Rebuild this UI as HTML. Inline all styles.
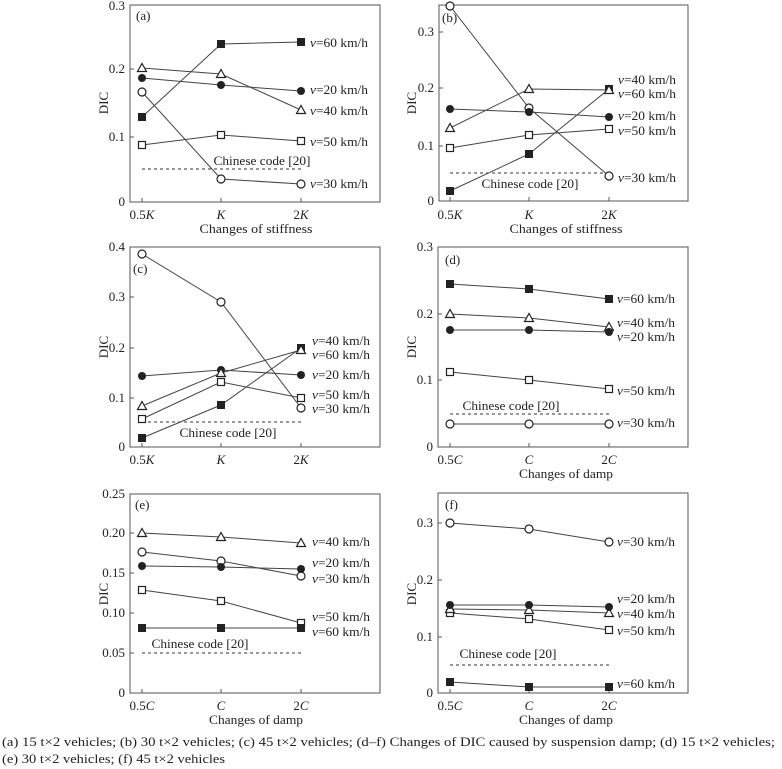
<!DOCTYPE html>
<html><head><meta charset="utf-8"><style>
html,body{margin:0;padding:0;background:#fff}
svg{display:block}
text{font-family:"Liberation Serif","Times New Roman",Times,serif;fill:#222}
</style></head><body>
<svg width="782" height="769" viewBox="0 0 782 769" xmlns="http://www.w3.org/2000/svg">
<defs>
<rect id="fs" x="-3.5" y="-3.5" width="7" height="7" fill="#222" stroke="#222" stroke-width="1"/>
<rect id="os" x="-3.5" y="-3.5" width="7" height="7" fill="#fff" stroke="#222" stroke-width="1.2"/>
<circle id="fc" r="4" fill="#222"/>
<circle id="oc" r="4" fill="#fff" stroke="#222" stroke-width="1.2"/>
<polygon id="tr" points="0,-4.5 4.5,3.5 -4.5,3.5" fill="#fff" stroke="#222" stroke-width="1.2"/>
</defs>
<g fill="none" stroke="#555" stroke-width="1">
<rect x="130" y="5" width="250" height="197"/>
<rect x="439" y="5" width="249" height="196"/>
<rect x="130" y="247" width="250" height="200"/>
<rect x="438" y="247" width="250" height="200"/>
<rect x="130" y="494" width="250" height="199"/>
<rect x="438" y="493" width="250" height="200"/>
</g>
<g stroke="#555" stroke-width="1">
<path d="M130 137h4M130 69h4M142 202v-4M221 202v-4M301 202v-4"/>
<path d="M439 146h4M439 88h4M439 32h4M450 201v-4M529 201v-4M609 201v-4"/>
<path d="M130 398h4M130 348h4M130 297h4M142 447v-4M221 447v-4M301 447v-4"/>
<path d="M438 380h4M438 314h4M450 447v-4M529 447v-4M609 447v-4"/>
<path d="M130 653h4M130 613h4M130 573h4M130 533h4M142 693v-4M221 693v-4M301 693v-4"/>
<path d="M438 637h4M438 580h4M438 523h4M450 693v-4M529 693v-4M609 693v-4"/>
</g>
<g stroke="#333" stroke-dasharray="3,3" stroke-width="1">
<path d="M142 169H301M450 173H609M142 422H301M450 414H609M142 653H301M450 665H609"/>
</g>
<g fill="none" stroke="#444" stroke-width="1">
<polyline points="142,117 221,44 301,42"/>
<polyline points="142,68 221,74 301,110"/>
<polyline points="142,78 221,85 301,91"/>
<polyline points="142,145 221,135 301,141"/>
<polyline points="142,92 221,179 301,184"/>
<polyline points="450,6 529,108 609,176"/>
<polyline points="450,128 529,89 609,90"/>
<polyline points="450,109 529,112 609,117"/>
<polyline points="450,148 529,135 609,129"/>
<polyline points="450,191 529,154 609,89"/>
<polyline points="142,254 221,302 301,408"/>
<polyline points="142,376 221,370 301,375"/>
<polyline points="142,406 221,373 301,350"/>
<polyline points="142,419 221,382 301,398"/>
<polyline points="142,438 221,405 301,348"/>
<polyline points="450,284 529,289 609,299"/>
<polyline points="450,314 529,318 609,327"/>
<polyline points="450,330 529,330 609,332"/>
<polyline points="450,372 529,380 609,389"/>
<polyline points="450,424 529,424 609,424"/>
<polyline points="142,533 221,537 301,543"/>
<polyline points="142,552 221,561 301,576"/>
<polyline points="142,566 221,567 301,569"/>
<polyline points="142,590 221,601 301,623"/>
<polyline points="142,628 221,628 301,628"/>
<polyline points="450,523 529,529 609,542"/>
<polyline points="450,605 529,605 609,607"/>
<polyline points="450,609 529,610 609,613"/>
<polyline points="450,613 529,619 609,630"/>
<polyline points="450,682 529,687 609,687"/>
</g>
<use href="#fs" x="142" y="117"/><use href="#fs" x="221" y="44"/><use href="#fs" x="301" y="42"/>
<use href="#tr" x="142" y="68"/><use href="#tr" x="221" y="74"/><use href="#tr" x="301" y="110"/>
<use href="#fc" x="142" y="78"/><use href="#fc" x="221" y="85"/><use href="#fc" x="301" y="91"/>
<use href="#os" x="142" y="145"/><use href="#os" x="221" y="135"/><use href="#os" x="301" y="141"/>
<use href="#oc" x="142" y="92"/><use href="#oc" x="221" y="179"/><use href="#oc" x="301" y="184"/>

<use href="#oc" x="450" y="6"/><use href="#oc" x="529" y="108"/><use href="#oc" x="609" y="176"/>
<use href="#fc" x="450" y="109"/><use href="#fc" x="529" y="112"/><use href="#fc" x="609" y="117"/>
<use href="#os" x="450" y="148"/><use href="#os" x="529" y="135"/><use href="#os" x="609" y="129"/>
<use href="#fs" x="450" y="191"/><use href="#fs" x="529" y="154"/><use href="#fs" x="609" y="89"/>
<use href="#tr" x="450" y="128"/><use href="#tr" x="529" y="89"/><use href="#tr" x="609" y="90"/>

<use href="#oc" x="142" y="254"/><use href="#oc" x="221" y="302"/><use href="#oc" x="301" y="408"/>
<use href="#fc" x="142" y="376"/><use href="#fc" x="221" y="370"/><use href="#fc" x="301" y="375"/>
<use href="#os" x="142" y="419"/><use href="#os" x="221" y="382"/><use href="#os" x="301" y="398"/>
<use href="#fs" x="142" y="438"/><use href="#fs" x="221" y="405"/><use href="#fs" x="301" y="348"/>
<use href="#tr" x="142" y="406"/><use href="#tr" x="221" y="373"/><use href="#tr" x="301" y="350"/>

<use href="#fs" x="450" y="284"/><use href="#fs" x="529" y="289"/><use href="#fs" x="609" y="299"/>
<use href="#tr" x="450" y="314"/><use href="#tr" x="529" y="318"/><use href="#tr" x="609" y="327"/>
<use href="#fc" x="450" y="330"/><use href="#fc" x="529" y="330"/><use href="#fc" x="609" y="332"/>
<use href="#os" x="450" y="372"/><use href="#os" x="529" y="380"/><use href="#os" x="609" y="389"/>
<use href="#oc" x="450" y="424"/><use href="#oc" x="529" y="424"/><use href="#oc" x="609" y="424"/>

<use href="#tr" x="142" y="533"/><use href="#tr" x="221" y="537"/><use href="#tr" x="301" y="543"/>
<use href="#oc" x="142" y="552"/><use href="#oc" x="221" y="561"/><use href="#oc" x="301" y="576"/>
<use href="#fc" x="142" y="566"/><use href="#fc" x="221" y="567"/><use href="#fc" x="301" y="569"/>
<use href="#os" x="142" y="590"/><use href="#os" x="221" y="601"/><use href="#os" x="301" y="623"/>
<use href="#fs" x="142" y="628"/><use href="#fs" x="221" y="628"/><use href="#fs" x="301" y="628"/>

<use href="#oc" x="450" y="523"/><use href="#oc" x="529" y="529"/><use href="#oc" x="609" y="542"/>
<use href="#os" x="450" y="613"/><use href="#os" x="529" y="619"/><use href="#os" x="609" y="630"/>
<use href="#tr" x="450" y="609"/><use href="#tr" x="529" y="610"/><use href="#tr" x="609" y="613"/>
<use href="#fc" x="450" y="605"/><use href="#fc" x="529" y="605"/><use href="#fc" x="609" y="607"/>
<use href="#fs" x="450" y="682"/><use href="#fs" x="529" y="687"/><use href="#fs" x="609" y="687"/>

<g font-size="13" text-anchor="end">
<text x="125" y="206">0</text><text x="125" y="141">0.1</text><text x="125" y="73">0.2</text><text x="125" y="10">0.3</text>
<text x="434" y="205">0</text><text x="434" y="150">0.1</text><text x="434" y="92">0.2</text><text x="434" y="36">0.3</text>
<text x="125" y="451">0</text><text x="125" y="402">0.1</text><text x="125" y="352">0.2</text><text x="125" y="301">0.3</text><text x="125" y="251">0.4</text>
<text x="433" y="451">0</text><text x="433" y="384">0.1</text><text x="433" y="318">0.2</text><text x="433" y="251">0.3</text>
<text x="125" y="697">0</text><text x="125" y="657">0.05</text><text x="125" y="617">0.10</text><text x="125" y="577">0.15</text><text x="125" y="537">0.20</text><text x="125" y="498">0.25</text>
<text x="433" y="697">0</text><text x="433" y="641">0.1</text><text x="433" y="584">0.2</text><text x="433" y="527">0.3</text>
</g>
<g font-size="13" text-anchor="middle">
<text x="142" y="219">0.5<tspan font-style="italic">K</tspan></text><text x="221" y="219" font-style="italic">K</text><text x="301" y="219">2<tspan font-style="italic">K</tspan></text>
<text x="450" y="219">0.5<tspan font-style="italic">K</tspan></text><text x="529" y="219" font-style="italic">K</text><text x="609" y="219">2<tspan font-style="italic">K</tspan></text>
<text x="142" y="464">0.5<tspan font-style="italic">K</tspan></text><text x="221" y="464" font-style="italic">K</text><text x="301" y="464">2<tspan font-style="italic">K</tspan></text>
<text x="450" y="464">0.5<tspan font-style="italic">C</tspan></text><text x="529" y="464" font-style="italic">C</text><text x="609" y="464">2<tspan font-style="italic">C</tspan></text>
<text x="142" y="710">0.5<tspan font-style="italic">C</tspan></text><text x="221" y="710" font-style="italic">C</text><text x="301" y="710">2<tspan font-style="italic">C</tspan></text>
<text x="450" y="710">0.5<tspan font-style="italic">C</tspan></text><text x="529" y="710" font-style="italic">C</text><text x="609" y="710">2<tspan font-style="italic">C</tspan></text>
<text x="256" y="233" textLength="113" lengthAdjust="spacingAndGlyphs">Changes of stiffness</text>
<text x="566" y="233" textLength="113" lengthAdjust="spacingAndGlyphs">Changes of stiffness</text>
<text x="566" y="478" textLength="94" lengthAdjust="spacingAndGlyphs">Changes of damp</text>
<text x="256" y="724" textLength="94" lengthAdjust="spacingAndGlyphs">Changes of damp</text>
<text x="566" y="724" textLength="94" lengthAdjust="spacingAndGlyphs">Changes of damp</text>
<text x="262" y="165" textLength="97" lengthAdjust="spacingAndGlyphs">Chinese code [20]</text>
<text x="530" y="188" textLength="97" lengthAdjust="spacingAndGlyphs">Chinese code [20]</text>
<text x="228" y="437" textLength="97" lengthAdjust="spacingAndGlyphs">Chinese code [20]</text>
<text x="511" y="410" textLength="97" lengthAdjust="spacingAndGlyphs">Chinese code [20]</text>
<text x="200" y="648" textLength="97" lengthAdjust="spacingAndGlyphs">Chinese code [20]</text>
<text x="508" y="658" textLength="97" lengthAdjust="spacingAndGlyphs">Chinese code [20]</text>
<text transform="translate(108,103) rotate(-90)">DIC</text>
<text transform="translate(416,103) rotate(-90)">DIC</text>
<text transform="translate(108,347) rotate(-90)">DIC</text>
<text transform="translate(416,347) rotate(-90)">DIC</text>
<text transform="translate(108,594) rotate(-90)">DIC</text>
<text transform="translate(416,594) rotate(-90)">DIC</text>
</g>
<g font-size="13">
<text x="136" y="20">(a)</text><text x="442" y="22">(b)</text><text x="133" y="273">(c)</text>
<text x="445" y="264">(d)</text><text x="135" y="509">(e)</text><text x="445" y="509">(f)</text>
</g>
<g font-size="13">
<text x="310" y="47" textLength="58" lengthAdjust="spacingAndGlyphs"><tspan font-style="italic">v</tspan>=60 km/h</text>
<text x="310" y="94" textLength="58" lengthAdjust="spacingAndGlyphs"><tspan font-style="italic">v</tspan>=20 km/h</text>
<text x="310" y="115" textLength="58" lengthAdjust="spacingAndGlyphs"><tspan font-style="italic">v</tspan>=40 km/h</text>
<text x="310" y="146" textLength="58" lengthAdjust="spacingAndGlyphs"><tspan font-style="italic">v</tspan>=50 km/h</text>
<text x="310" y="188" textLength="58" lengthAdjust="spacingAndGlyphs"><tspan font-style="italic">v</tspan>=30 km/h</text>

<text x="618" y="84" textLength="58" lengthAdjust="spacingAndGlyphs"><tspan font-style="italic">v</tspan>=40 km/h</text>
<text x="618" y="98" textLength="58" lengthAdjust="spacingAndGlyphs"><tspan font-style="italic">v</tspan>=60 km/h</text>
<text x="618" y="120" textLength="58" lengthAdjust="spacingAndGlyphs"><tspan font-style="italic">v</tspan>=20 km/h</text>
<text x="618" y="135" textLength="58" lengthAdjust="spacingAndGlyphs"><tspan font-style="italic">v</tspan>=50 km/h</text>
<text x="618" y="182" textLength="58" lengthAdjust="spacingAndGlyphs"><tspan font-style="italic">v</tspan>=30 km/h</text>

<text x="312" y="345" textLength="58" lengthAdjust="spacingAndGlyphs"><tspan font-style="italic">v</tspan>=40 km/h</text>
<text x="312" y="359" textLength="58" lengthAdjust="spacingAndGlyphs"><tspan font-style="italic">v</tspan>=60 km/h</text>
<text x="312" y="379" textLength="58" lengthAdjust="spacingAndGlyphs"><tspan font-style="italic">v</tspan>=20 km/h</text>
<text x="312" y="399" textLength="58" lengthAdjust="spacingAndGlyphs"><tspan font-style="italic">v</tspan>=50 km/h</text>
<text x="312" y="413" textLength="58" lengthAdjust="spacingAndGlyphs"><tspan font-style="italic">v</tspan>=30 km/h</text>

<text x="617" y="303" textLength="58" lengthAdjust="spacingAndGlyphs"><tspan font-style="italic">v</tspan>=60 km/h</text>
<text x="617" y="327" textLength="58" lengthAdjust="spacingAndGlyphs"><tspan font-style="italic">v</tspan>=40 km/h</text>
<text x="617" y="341" textLength="58" lengthAdjust="spacingAndGlyphs"><tspan font-style="italic">v</tspan>=20 km/h</text>
<text x="617" y="395" textLength="58" lengthAdjust="spacingAndGlyphs"><tspan font-style="italic">v</tspan>=50 km/h</text>
<text x="617" y="427" textLength="58" lengthAdjust="spacingAndGlyphs"><tspan font-style="italic">v</tspan>=30 km/h</text>

<text x="312" y="546" textLength="58" lengthAdjust="spacingAndGlyphs"><tspan font-style="italic">v</tspan>=40 km/h</text>
<text x="312" y="567" textLength="58" lengthAdjust="spacingAndGlyphs"><tspan font-style="italic">v</tspan>=20 km/h</text>
<text x="312" y="583" textLength="58" lengthAdjust="spacingAndGlyphs"><tspan font-style="italic">v</tspan>=30 km/h</text>
<text x="312" y="621" textLength="58" lengthAdjust="spacingAndGlyphs"><tspan font-style="italic">v</tspan>=50 km/h</text>
<text x="312" y="636" textLength="58" lengthAdjust="spacingAndGlyphs"><tspan font-style="italic">v</tspan>=60 km/h</text>

<text x="617" y="546" textLength="58" lengthAdjust="spacingAndGlyphs"><tspan font-style="italic">v</tspan>=30 km/h</text>
<text x="617" y="603" textLength="58" lengthAdjust="spacingAndGlyphs"><tspan font-style="italic">v</tspan>=20 km/h</text>
<text x="617" y="618" textLength="58" lengthAdjust="spacingAndGlyphs"><tspan font-style="italic">v</tspan>=40 km/h</text>
<text x="617" y="635" textLength="58" lengthAdjust="spacingAndGlyphs"><tspan font-style="italic">v</tspan>=50 km/h</text>
<text x="617" y="688" textLength="58" lengthAdjust="spacingAndGlyphs"><tspan font-style="italic">v</tspan>=60 km/h</text>
</g>
<g font-size="12.5">
<text x="2" y="746" textLength="773" lengthAdjust="spacingAndGlyphs">(a) 15 t×2 vehicles; (b) 30 t×2 vehicles; (c) 45 t×2 vehicles; (d–f) Changes of DIC caused by suspension damp; (d) 15 t×2 vehicles;</text>
<text x="2" y="763" textLength="223" lengthAdjust="spacingAndGlyphs">(e) 30 t×2 vehicles; (f) 45 t×2 vehicles</text>
</g>
</svg>
</body></html>
